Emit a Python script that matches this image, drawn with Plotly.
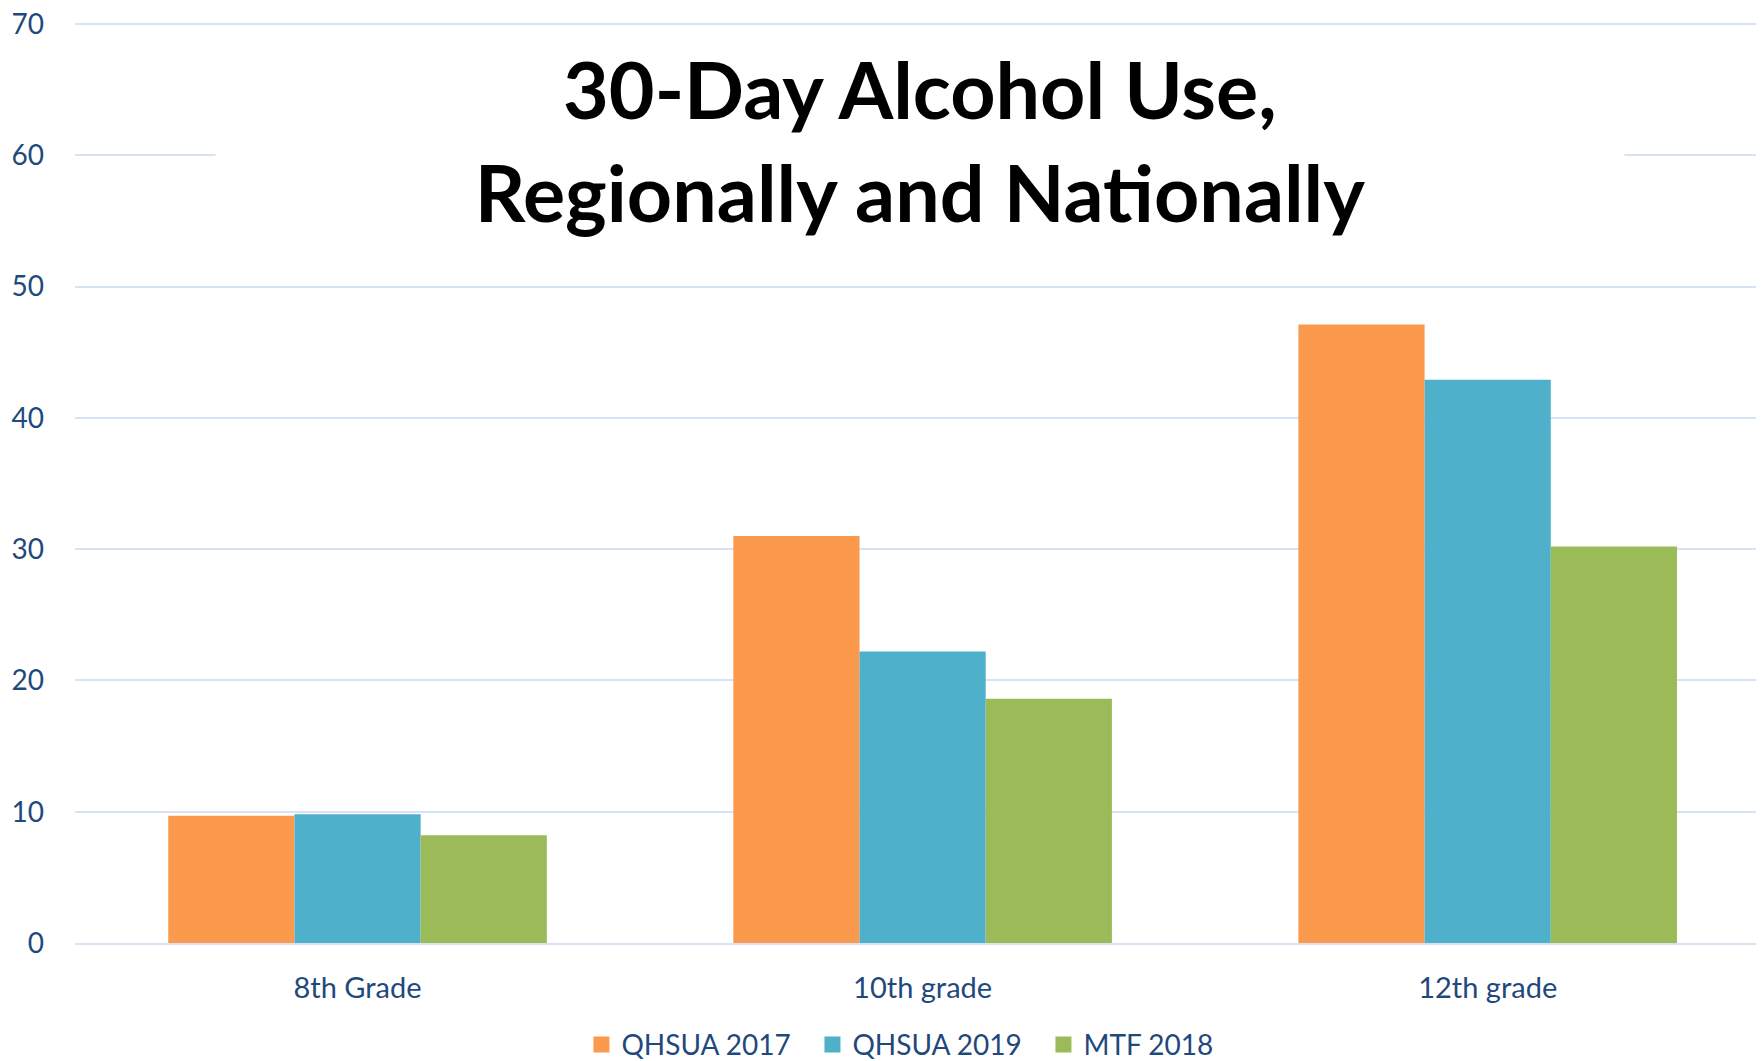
import plotly.graph_objects as go

grades = ["8th Grade", "10th grade", "12th grade"]
qhsua_2017 = [9.7, 31.0, 47.1]
qhsua_2019 = [9.8, 22.2, 42.9]
mtf_2018 = [8.2, 18.6, 30.2]

series = [
    ("QHSUA 2017", qhsua_2017, "#FB9A4C"),
    ("QHSUA 2019", qhsua_2019, "#4EB0CB"),
    ("MTF 2018", mtf_2018, "#9BBB59"),
]

TEXT_BLUE = "#1F497D"
GRID = "#D6E3F5"

fig = go.Figure()
for name, vals, color in series:
    fig.add_trace(go.Bar(name=name, x=grades, y=vals, showlegend=False,
                         marker=dict(color=color, line_width=0)))
# legend-only entries so the swatches come out as bigger squares
for name, vals, color in series:
    fig.add_trace(go.Scatter(name=name, x=[None], y=[None], mode="markers",
                             marker=dict(symbol="square", size=18, color=color)))

# title sits on a white box that hides the gridline behind it
fig.add_annotation(text="<b>30-Day Alcohol Use,<br>Regionally and Nationally</b>",
                   xref="paper", yref="paper", x=0.5, y=0.8705,
                   xanchor="center", yanchor="middle", showarrow=False,
                   width=1406, height=210, bgcolor="white",
                   font=dict(family="Lato, Open Sans, sans-serif", size=79, color="black"))

# page body has an 8px margin, so the figure is sized to fit the window
fig.update_layout(
    width=1756, height=1053,
    paper_bgcolor="white", plot_bgcolor="white",
    font=dict(family="Lato, Open Sans, sans-serif", color=TEXT_BLUE, size=28),
    margin=dict(l=67, r=0, t=12, b=118, autoexpand=False),
    barmode="group", bargap=0.33, bargroupgap=0,
    showlegend=True,
    legend=dict(orientation="h", x=0.505, xanchor="center",
                yref="container", y=0.0155, yanchor="middle",
                font=dict(size=28, color=TEXT_BLUE), itemwidth=30, entrywidth=186,
                itemsizing="trace", bgcolor="rgba(0,0,0,0)"),
    xaxis=dict(range=[-0.5, 2.489], showgrid=False, showline=True, linecolor=GRID,
               linewidth=2, ticks="", tickfont=dict(size=29, color=TEXT_BLUE),
               ticklabelstandoff=18),
    yaxis=dict(range=[0, 70.3], dtick=10, showgrid=True, gridcolor=GRID, gridwidth=2,
               zeroline=False, showline=False, ticks="", ticklabeloverflow="allow",
               tickfont=dict(size=28, color=TEXT_BLUE), ticklabelstandoff=30),
)

fig.write_html("out.html")
